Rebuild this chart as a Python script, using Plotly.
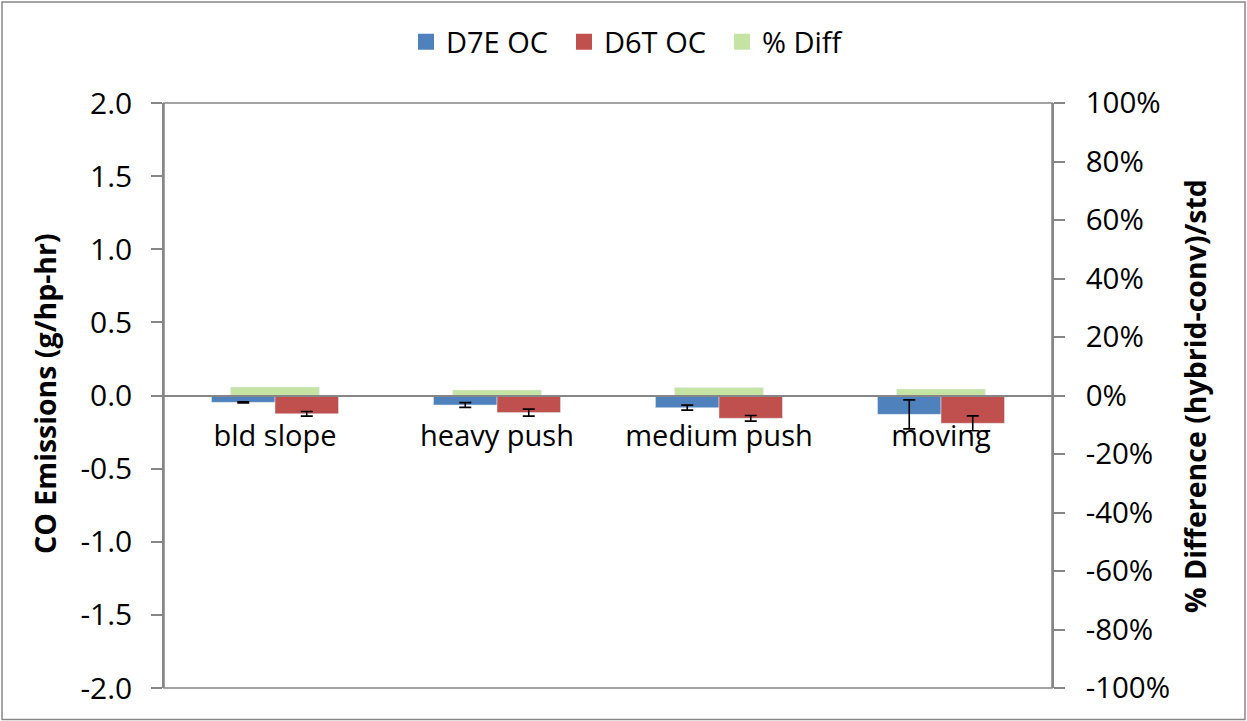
import plotly.graph_objects as go

categories = ["bld slope", "heavy push", "medium push", "moving"]
d7e_oc = [-0.047, -0.065, -0.083, -0.129]
d7e_err = [0.004, 0.016, 0.017, 0.099]
d6t_oc = [-0.125, -0.117, -0.156, -0.190]
d6t_err = [0.016, 0.024, 0.019, 0.051]
pct_diff = [0.029, 0.019, 0.027, 0.022]

left_ticks = [-2.0, -1.5, -1.0, -0.5, 0.0, 0.5, 1.0, 1.5, 2.0]
left_labels = ["-2.0", "-1.5", "-1.0", "-0.5", "0.0", "0.5", "1.0", "1.5", "2.0"]
right_ticks = [-1.0, -0.8, -0.6, -0.4, -0.2, 0.0, 0.2, 0.4, 0.6, 0.8, 1.0]
right_labels = ["-100%", "-80%", "-60%", "-40%", "-20%", "0%", "20%", "40%", "60%", "80%", "100%"]

BLUE = "#4F81BD"
RED = "#C0504D"
GREEN = "#C5E4A4"
GRAY = "#868686"
FONT = "Open Sans"

W, H = 1247, 721
ML, MR, MT, MB = 164, 195, 103, 33
PW, PH = W - ML - MR, H - MT - MB

fig = go.Figure()

fig.add_trace(go.Bar(
    x=categories, y=d7e_oc, name="D7E OC", marker_color=BLUE,
    width=0.286, offset=-0.286, showlegend=False,
    error_y=dict(type="data", array=d7e_err, color="black", thickness=1.6, width=6),
))
fig.add_trace(go.Bar(
    x=categories, y=d6t_oc, name="D6T OC", marker_color=RED,
    width=0.286, offset=0.0, showlegend=False,
    error_y=dict(type="data", array=d6t_err, color="black", thickness=1.6, width=6),
))
fig.add_trace(go.Bar(
    x=categories, y=pct_diff, name="% Diff", marker_color=GREEN,
    width=0.4, offset=-0.2, yaxis="y2", showlegend=False,
))

# legend entries
for nm, col in [("D7E OC", BLUE), ("D6T OC", RED), ("% Diff", GREEN)]:
    fig.add_trace(go.Scatter(
        x=[None], y=[None], mode="markers", name=nm,
        marker=dict(symbol="square", size=19, color=col),
    ))

fig.update_layout(
    width=W, height=H,
    margin=dict(l=ML, r=MR, t=MT, b=MB, autoexpand=False),
    paper_bgcolor="white", plot_bgcolor="white",
    font=dict(family=FONT, color="black", size=29),
    barmode="overlay",
    xaxis=dict(
        type="category", anchor="free", position=0.5,
        showline=True, linecolor=GRAY, linewidth=1.5,
        ticks="", showgrid=False, zeroline=False, automargin=False,
        tickfont=dict(size=29), ticklabelstandoff=15,
        range=[-0.5, 3.5],
    ),
    yaxis=dict(
        range=[-2, 2], tickvals=left_ticks, ticktext=left_labels,
        showline=True, linecolor=GRAY, linewidth=1.5,
        ticks="outside", ticklen=11, tickcolor=GRAY, tickwidth=1.5,
        showgrid=False, zeroline=False, tickfont=dict(size=30),
        ticklabelstandoff=13, automargin=False,
    ),
    yaxis2=dict(
        range=[-1, 1], tickvals=right_ticks, ticktext=right_labels,
        overlaying="y", side="right",
        showline=True, linecolor=GRAY, linewidth=1.5,
        ticks="outside", ticklen=11, tickcolor=GRAY, tickwidth=1.5,
        showgrid=False, zeroline=False, tickfont=dict(size=29.5),
        ticklabelstandoff=15, automargin=False,
    ),
    legend=dict(
        orientation="h", x=(406 - ML) / PW, xanchor="left",
        y=(H - MB - 42) / PH, yanchor="middle",
        font=dict(size=29), bgcolor="rgba(0,0,0,0)",
        entrywidth=113, itemwidth=30,
    ),
    annotations=[
        dict(text="<b>CO Emissions (g/hp-hr)</b>", textangle=-90,
             xref="paper", yref="paper", x=(45 - ML) / PW, y=(H - MB - 394) / PH,
             showarrow=False, font=dict(size=28.5), xanchor="center", yanchor="middle"),
        dict(text="<b>% Difference (hybrid-conv)/std</b>", textangle=-90,
             xref="paper", yref="paper", x=(1195 - ML) / PW, y=(H - MB - 396) / PH,
             showarrow=False, font=dict(size=28.5), xanchor="center", yanchor="middle"),
    ],
    shapes=[
        dict(type="rect", xref="paper", yref="paper", x0=0, x1=1, y0=0, y1=1,
             line=dict(color=GRAY, width=1.5), layer="below"),
        dict(type="rect", xref="paper", yref="paper",
             x0=(2 - ML) / PW, x1=(W - 2 - ML) / PW,
             y0=(H - MB - (H - 1.5)) / PH, y1=(H - MB - 2) / PH,
             line=dict(color=GRAY, width=1.5), layer="below"),
    ],
)

fig.write_html("out.html", config={"displayModeBar": False},
               post_script="document.body.style.margin='0';")
